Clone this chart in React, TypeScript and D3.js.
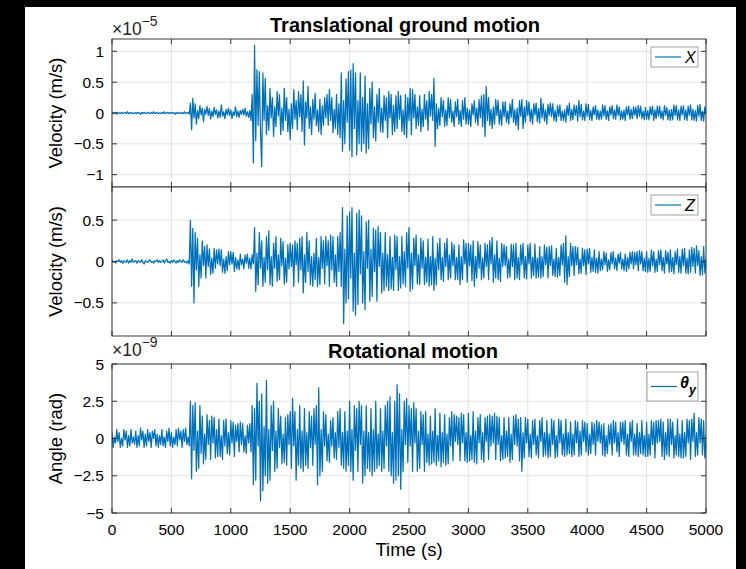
import React from "react";
import * as d3 from "d3";

// Sample spacing of the records (s)
const SAMPLE_STEP = 10;

// Horizontal ground velocity X, units of 1e-7 m/s, one value every 10 s
const velX = [
  1,-1,0,1,-2,1,0,-1,1,-1, 0,1,-1,2,-1,0,1,-1,0,-1, 1,-1,1,0,-2,1,-1,1,0,-1,
  1,0,-1,1,-1,2,-1,0,1,-1, 0,-1,1,-1,2,-1,0,1,-1,1, -1,1,0,-2,1,-1,1,0,-1,1,
  -1,2,-1,0,1,-2,16,-27,24,-8, 15,-18,4,-9,12,-3,8,-14,6,-2, 11,-4,7,-10,3,-6,9,-2,5,-8,
  3,-7,13,-5,2,-9,6,-3,8,-4, 5,-9,2,-4,10,-6,3,-7,4,-2, 6,-3,8,-5,2,-7,4,-12,30,-81,
  110,-45,70,-20,67,-30,-87,65,-12,56, -35,12,-28,40,-8,25,-38,10,-22,35, -5,30,-35,8,-28,40,-12,25,-30,6,
  -43,15,-25,38,-10,20,-27,35,-6,30, -30,52,-52,18,-8,43,-25,10,-35,22, -10,32,-20,5,-30,22,-35,12,-20,25,
  -8,30,-20,38,-12,25,-32,6,-25,30, -35,15,-40,65,-62,20,-50,55,-15,67, -60,70,-71,80,-25,65,-68,20,-50,65,
  -62,25,-50,60,-65,15,-58,40,-18,50, -40,10,-45,30,-15,40,-30,8,-32,28, -12,25,-40,35,-8,30,-35,12,-30,28,
  -25,35,-10,28,-30,5,-35,30,-40,25, -12,40,-35,38,-8,30,-25,10,-20,28, -30,6,-22,30,-10,20,-28,35,-5,30,
  -12,56,-54,15,-25,8,-20,25,-6,20, -22,5,-20,25,-8,22,-15,3,-22,18, -6,22,-18,4,-22,20,-10,25,-18,8,
  -18,5,-22,15,-3,20,-15,8,-20,22, -8,28,-22,30,-38,43,-12,25,-20,6, -25,10,-18,22,-4,20,-18,5,-20,18,
  -6,18,-15,3,-18,15,-7,22,-15,5, -20,8,-27,20,-5,22,-25,10,-15,20, -4,18,-14,6,-18,15,-3,16,-14,7,
  -16,24,-8,15,-13,5,-18,14,-4,16, -6,15,-12,4,-14,12,-5,13,-12,3, -12,5,-15,12,-4,16,-12,6,-11,13,
  -4,12,-13,20,-6,14,-11,3,-12,15, -5,14,-11,4,-12,10,-3,12,-10,5, -11,3,-10,13,-5,12,-10,4,-12,10,
  -3,12,-9,5,-10,13,-4,10,-11,3, -10,5,-12,10,-3,11,-10,6,-9,10, -4,10,-9,12,-5,11,-9,3,-11,9,
  -10,4,-11,10,-3,11,-12,5,-9,11, -5,11,-9,3,-11,12,-4,9,-11,5, -12,6,-11,13,-4,12,-11,5,-12,11,
  -3,12,-11,5,-12,11,-4,13,-11,6, -12,4,-13,12,-5,14,-12,3,-13,10, -3,
];

// Vertical ground velocity Z, units of 1e-7 m/s
const velZ = [
  2,-1,0,-2,1,0,2,-1,1,-2, 1,0,-1,2,-2,1,-1,3,-1,0, 1,-2,1,0,-1,2,-1,-3,1,0,
  -1,1,2,-1,0,-2,1,0,2,-1, 1,-1,0,2,-2,1,3,-1,0,-2, 1,-1,2,0,-2,1,-1,2,0,-1,
  2,-1,0,-2,1,-3,50,-30,40,-50, 35,-10,28,-30,8,-20,25,-5,18,-20, 20,-6,15,-16,4,-14,16,-8,14,-3,
  15,-5,14,-13,3,-14,6,-11,12,-4, 12,-3,11,-12,5,-9,2,-10,9,-4, 3,-9,8,-2,9,-8,4,-9,8,-3,
  41,-36,10,-28,35,-8,25,-30,5,-25, 30,-10,37,-28,6,-30,22,-8,30,-24, 8,-22,28,-5,24,-27,4,-25,20,-9,
  22,-6,20,-30,25,-4,22,-25,28,-10, 30,-38,8,-25,35,-12,25,-28,6,-30, 10,-22,28,-30,5,-28,30,-8,25,-27,
  30,-5,25,-30,32,-10,30,-25,8,-30, 30,-12,35,-30,65,-75,15,-50,55,-45, 60,-20,65,-60,10,-65,58,-52,62,-15,
  55,-50,12,-58,48,-8,50,-48,15,-42, 40,-12,38,-48,42,-6,35,-38,10,-35, 35,-30,8,-35,30,-33,5,-35,32,-10,
  30,-35,6,-32,30,-27,12,-30,35,-8, 41,-36,10,-33,28,-5,32,-27,8,-28, 28,-8,25,-28,5,-25,27,-30,6,-28,
  30,-35,4,-28,22,-10,28,-22,5,-24, 22,-6,28,-22,8,-20,23,-5,20,-22, 5,-22,20,-28,6,-22,26,-3,22,-25,
  22,-5,20,-23,25,-30,6,-20,24,-8, 20,-22,4,-20,22,-6,20,-22,25,-3, 29,-25,8,-20,25,-22,4,-24,22,-6,
  20,-5,18,-20,3,-19,21,-6,20,-22, 22,-20,5,-22,20,-4,22,-20,6,-21, 20,-3,22,-20,5,-17,21,-20,4,-19,
  18,-20,6,-18,20,-4,17,-20,18,-5, 19,-17,3,-18,16,-19,5,-17,20,-4, 22,-25,31,-28,6,-18,22,-5,18,-17,
  18,-4,17,-15,3,-14,16,-5,14,-16, 15,-3,16,-13,5,-12,14,-13,4,-14, 12,-11,3,-10,12,-4,10,-12,2,-10,
  11,-3,12,-9,4,-11,9,-2,11,-9, 3,-11,9,-12,5,-9,11,-3,12,-9, 11,-4,12,-11,13,-3,12,-11,4,-12,
  12,-13,4,-12,14,-5,12,-13,3,-12, 13,-4,14,-11,5,-14,13,-3,11,-13, 14,-12,5,-15,12,-4,15,-13,6,-14,
  15,-5,16,-14,4,-15,14,-13,17,-6, 16,-14,19,-5,13,-17,6,-16,18,-14, 3,
];

// Rotation angle about y, units of 1e-10 rad
const rotY = [
  4,-6,1,-3,6,-2,4,-6,0,-5, 6,-1,5,-6,2,-5,6,-3,1,-4, 5,-6,2,-5,7,-1,5,-6,3,-5,
  6,-2,4,-6,5,0,6,-5,3,-6, 2,-4,6,-5,1,-6,5,-2,7,-5, 4,-6,1,-4,6,-5,7,-1,5,-6,
  6,-2,7,-4,1,-5,25,-27,22,-8, 24,-22,5,-20,22,-10,15,-17,3,-14, 16,-4,12,-14,15,-3,14,-13,6,-12,
  13,-12,2,-14,12,-5,13,-10,4,-11, 12,-3,11,-12,9,-2,10,-9,11,-4, 10,-9,2,-10,9,-3,10,-9,22,-31,
  20,-28,37,-5,25,-42,30,-35,8,-25, 39,-30,6,-28,22,-8,25,-22,5,-20, 20,-6,15,-17,3,-16,14,-18,16,-4,
  18,-20,27,-5,18,-28,6,-18,22,-20, 5,-22,20,-18,4,-20,18,-6,15,-18, 20,-4,22,-31,34,-25,6,-22,18,-5,
  16,-15,3,-16,12,-5,14,-13,4,-14, 18,-6,20,-18,4,-20,18,-22,5,-18, 25,-22,6,-28,22,-8,20,-22,25,-4,
  22,-30,5,-25,22,-20,4,-22,20,-25, 6,-22,25,-20,3,-18,20,-22,5,-20, 22,-5,25,-22,28,-25,4,-30,25,-28,
  36,-25,30,-34,6,-22,25,-4,27,-16, 22,-5,20,-22,24,-3,20,-22,5,-20, 18,-4,16,-22,18,-16,3,-18,15,-17,
  5,-16,20,-18,2,-15,17,-19,4,-16, 16,-18,3,-17,14,-5,18,-15,16,-2, 15,-4,14,-15,17,-3,16,-15,4,-16,
  17,-15,2,-14,18,-16,5,-17,14,-3, 16,-14,4,-16,14,-2,15,-14,16,-5, 15,-3,17,-14,15,-4,14,-15,2,-14,
  14,-13,5,-12,14,-16,3,-14,15,-4, 16,-5,13,-15,14,-22,4,-13,14,-3, 13,-12,3,-13,12,-4,13,-11,2,-13,
  12,-2,14,-12,4,-11,12,-13,3,-12, 13,-4,12,-13,2,-12,13,-3,12,-11, 3,-12,13,-11,4,-10,11,-12,3,-11,
  12,-3,11,-12,5,-11,12,-2,11,-9, 10,-11,3,-10,11,-4,10,-11,12,-2, 11,-3,9,-11,10,-12,2,-10,9,-4,
  10,-11,12,-3,11,-9,4,-12,11,-2, 11,-4,12,-11,3,-12,11,-2,12,-11, 3,-11,10,-12,4,-10,12,-11,2,-12,
  11,-12,3,-11,12,-4,11,-13,12,-3, 12,-2,13,-12,11,-14,4,-11,13,-12, 13,-4,11,-13,2,-11,13,-12,3,-13,
  12,-13,4,-12,13,-3,12,-14,13,-2, 17,-12,4,-11,14,-3,13,-11,12,-13, 2,
];

// Time axis
const timeTicks = [0, 500, 1000, 1500, 2000, 2500, 3000, 3500, 4000, 4500, 5000];
const timeTickLabels = ["0", "500", "1000", "1500", "2000", "2500", "3000", "3500", "4000", "4500", "5000"];

// Y axes (values in the same units as the series above)
const xTicks = [-100, -50, 0, 50, 100];
const xTickLabels = ["\u22121", "\u22120.5", "0", "0.5", "1"];
const zTicks = [-50, 0, 50];
const zTickLabels = ["\u22120.5", "0", "0.5"];
const rTicks = [-50, -25, 0, 25, 50];
const rTickLabels = ["\u22125", "\u22122.5", "0", "2.5", "5"];

const W = 746;
const H = 569;
const LEFT = 112;
const RIGHT = 706;
const LINE_COLOR = "#0072BD";
const AXIS_COLOR = "#262626";
const GRID_COLOR = "#e3e3e3";
const FONT = "'Liberation Sans', Arial, Helvetica, sans-serif";

const xScale = d3.scaleLinear().domain([0, 5000]).range([LEFT, RIGHT]);

type PanelProps = {
  id: string;
  top: number;
  bottom: number;
  values: number[];
  domain: [number, number];
  ticks: number[];
  tickLabels: string[];
  showTimeLabels: boolean;
  yLabel: string;
  legend: React.ReactNode;
  legendWidth: number;
  legendHeight: number;
};

function Panel(p: PanelProps) {
  const y = d3.scaleLinear().domain(p.domain).range([p.bottom, p.top]);
  const line = d3
    .line<number>()
    .x((_, i) => xScale(i * SAMPLE_STEP))
    .y((v) => y(v));
  const path = line(p.values) || "";
  const tickLen = 5;
  const midY = (p.top + p.bottom) / 2;
  const lgX = RIGHT - 8 - p.legendWidth;
  const lgY = p.top + 8;
  return (
    <g>
      <defs>
        <clipPath id={`clip-${p.id}`}>
          <rect x={LEFT} y={p.top} width={RIGHT - LEFT} height={p.bottom - p.top} />
        </clipPath>
      </defs>
      <rect x={LEFT} y={p.top} width={RIGHT - LEFT} height={p.bottom - p.top} fill="#fff" />
      {/* grid */}
      {timeTicks.map((t) => (
        <line key={`gx${t}`} x1={xScale(t)} x2={xScale(t)} y1={p.top} y2={p.bottom} stroke={GRID_COLOR} strokeWidth={1} />
      ))}
      {p.ticks.map((v) => (
        <line key={`gy${v}`} x1={LEFT} x2={RIGHT} y1={y(v)} y2={y(v)} stroke={GRID_COLOR} strokeWidth={1} />
      ))}
      {/* signal */}
      <path d={path} fill="none" stroke={LINE_COLOR} strokeWidth={1.25} strokeLinejoin="round" clipPath={`url(#clip-${p.id})`} />
      {/* box */}
      <rect x={LEFT} y={p.top} width={RIGHT - LEFT} height={p.bottom - p.top} fill="none" stroke={AXIS_COLOR} strokeWidth={0.9} />
      {/* ticks */}
      {timeTicks.map((t) => (
        <g key={`tx${t}`}>
          <line x1={xScale(t)} x2={xScale(t)} y1={p.bottom} y2={p.bottom - tickLen} stroke={AXIS_COLOR} strokeWidth={0.9} />
          <line x1={xScale(t)} x2={xScale(t)} y1={p.top} y2={p.top + tickLen} stroke={AXIS_COLOR} strokeWidth={0.9} />
        </g>
      ))}
      {p.ticks.map((v) => (
        <g key={`ty${v}`}>
          <line x1={LEFT} x2={LEFT + tickLen} y1={y(v)} y2={y(v)} stroke={AXIS_COLOR} strokeWidth={0.9} />
          <line x1={RIGHT} x2={RIGHT - tickLen} y1={y(v)} y2={y(v)} stroke={AXIS_COLOR} strokeWidth={0.9} />
        </g>
      ))}
      {p.ticks.map((v, i) => (
        <text key={`ly${v}`} x={LEFT - 8} y={y(v)} dy="0.36em" textAnchor="end" fontSize={15.5} fill="#000">
          {p.tickLabels[i]}
        </text>
      ))}
      {p.showTimeLabels &&
        timeTicks.map((t, i) => (
          <text key={`lx${t}`} x={xScale(t)} y={p.bottom + 22} textAnchor="middle" fontSize={15.5} fill="#000">
            {timeTickLabels[i]}
          </text>
        ))}
      <text transform={`translate(61.5,${midY}) rotate(-90)`} textAnchor="middle" fontSize={18.5} fill="#000">
        {p.yLabel}
      </text>
      {/* legend */}
      <rect x={lgX} y={lgY} width={p.legendWidth} height={p.legendHeight} fill="#fff" stroke="#8a8a8a" strokeWidth={0.8} />
      <line x1={lgX + 4} x2={lgX + 30} y1={lgY + p.legendHeight / 2} y2={lgY + p.legendHeight / 2} stroke={LINE_COLOR} strokeWidth={1.2} />
      <g transform={`translate(${lgX + 32},${lgY})`}>{p.legend}</g>
    </g>
  );
}

export default function App() {
  return (
    <svg
      width={W}
      height={H}
      style={{ position: "absolute", left: 0, top: 0, fontFamily: FONT }}
    >
      <rect x={0} y={0} width={W} height={H} fill="#000" />
      <rect x={25} y={7} width={711} height={H - 7} fill="#fff" />

      <text x={405} y={32} textAnchor="middle" fontSize={20} fontWeight="bold" fill="#000">
        Translational ground motion
      </text>
      <text x={112} y={35} fontSize={17.5} fill="#262626">
        ×10<tspan dy={-9} fontSize={14}>{"\u22125"}</tspan>
      </text>

      <Panel
        id="x"
        top={39}
        bottom={187}
        values={velX}
        domain={[-120, 120]}
        ticks={xTicks}
        tickLabels={xTickLabels}
        showTimeLabels={false}
        yLabel="Velocity (m/s)"
        legendWidth={47}
        legendHeight={20}
        legend={
          <text x={2} y={15.5} fontSize={16} fontStyle="italic" fill="#000">
            X
          </text>
        }
      />
      <Panel
        id="z"
        top={187}
        bottom={336}
        values={velZ}
        domain={[-90, 90]}
        ticks={zTicks}
        tickLabels={zTickLabels}
        showTimeLabels={false}
        yLabel="Velocity (m/s)"
        legendWidth={47}
        legendHeight={20}
        legend={
          <text x={2} y={15.5} fontSize={16} fontStyle="italic" fill="#000">
            Z
          </text>
        }
      />

      <text x={413} y={358} textAnchor="middle" fontSize={20} fontWeight="bold" fill="#000">
        Rotational motion
      </text>
      <text x={112} y={356} fontSize={17.5} fill="#262626">
        ×10<tspan dy={-9} fontSize={14}>{"\u22129"}</tspan>
      </text>

      <Panel
        id="r"
        top={364}
        bottom={513}
        values={rotY}
        domain={[-50, 50]}
        ticks={rTicks}
        tickLabels={rTickLabels}
        showTimeLabels={true}
        yLabel="Angle (rad)"
        legendWidth={51}
        legendHeight={29}
        legend={
          <text x={1} y={16} fontSize={16} fontStyle="italic" fontWeight="bold" fill="#000">
            θ<tspan dy={6} fontSize={12.5}>y</tspan>
          </text>
        }
      />

      <text x={409} y={556} textAnchor="middle" fontSize={18.5} fill="#000">
        Time (s)
      </text>
    </svg>
  );
}
